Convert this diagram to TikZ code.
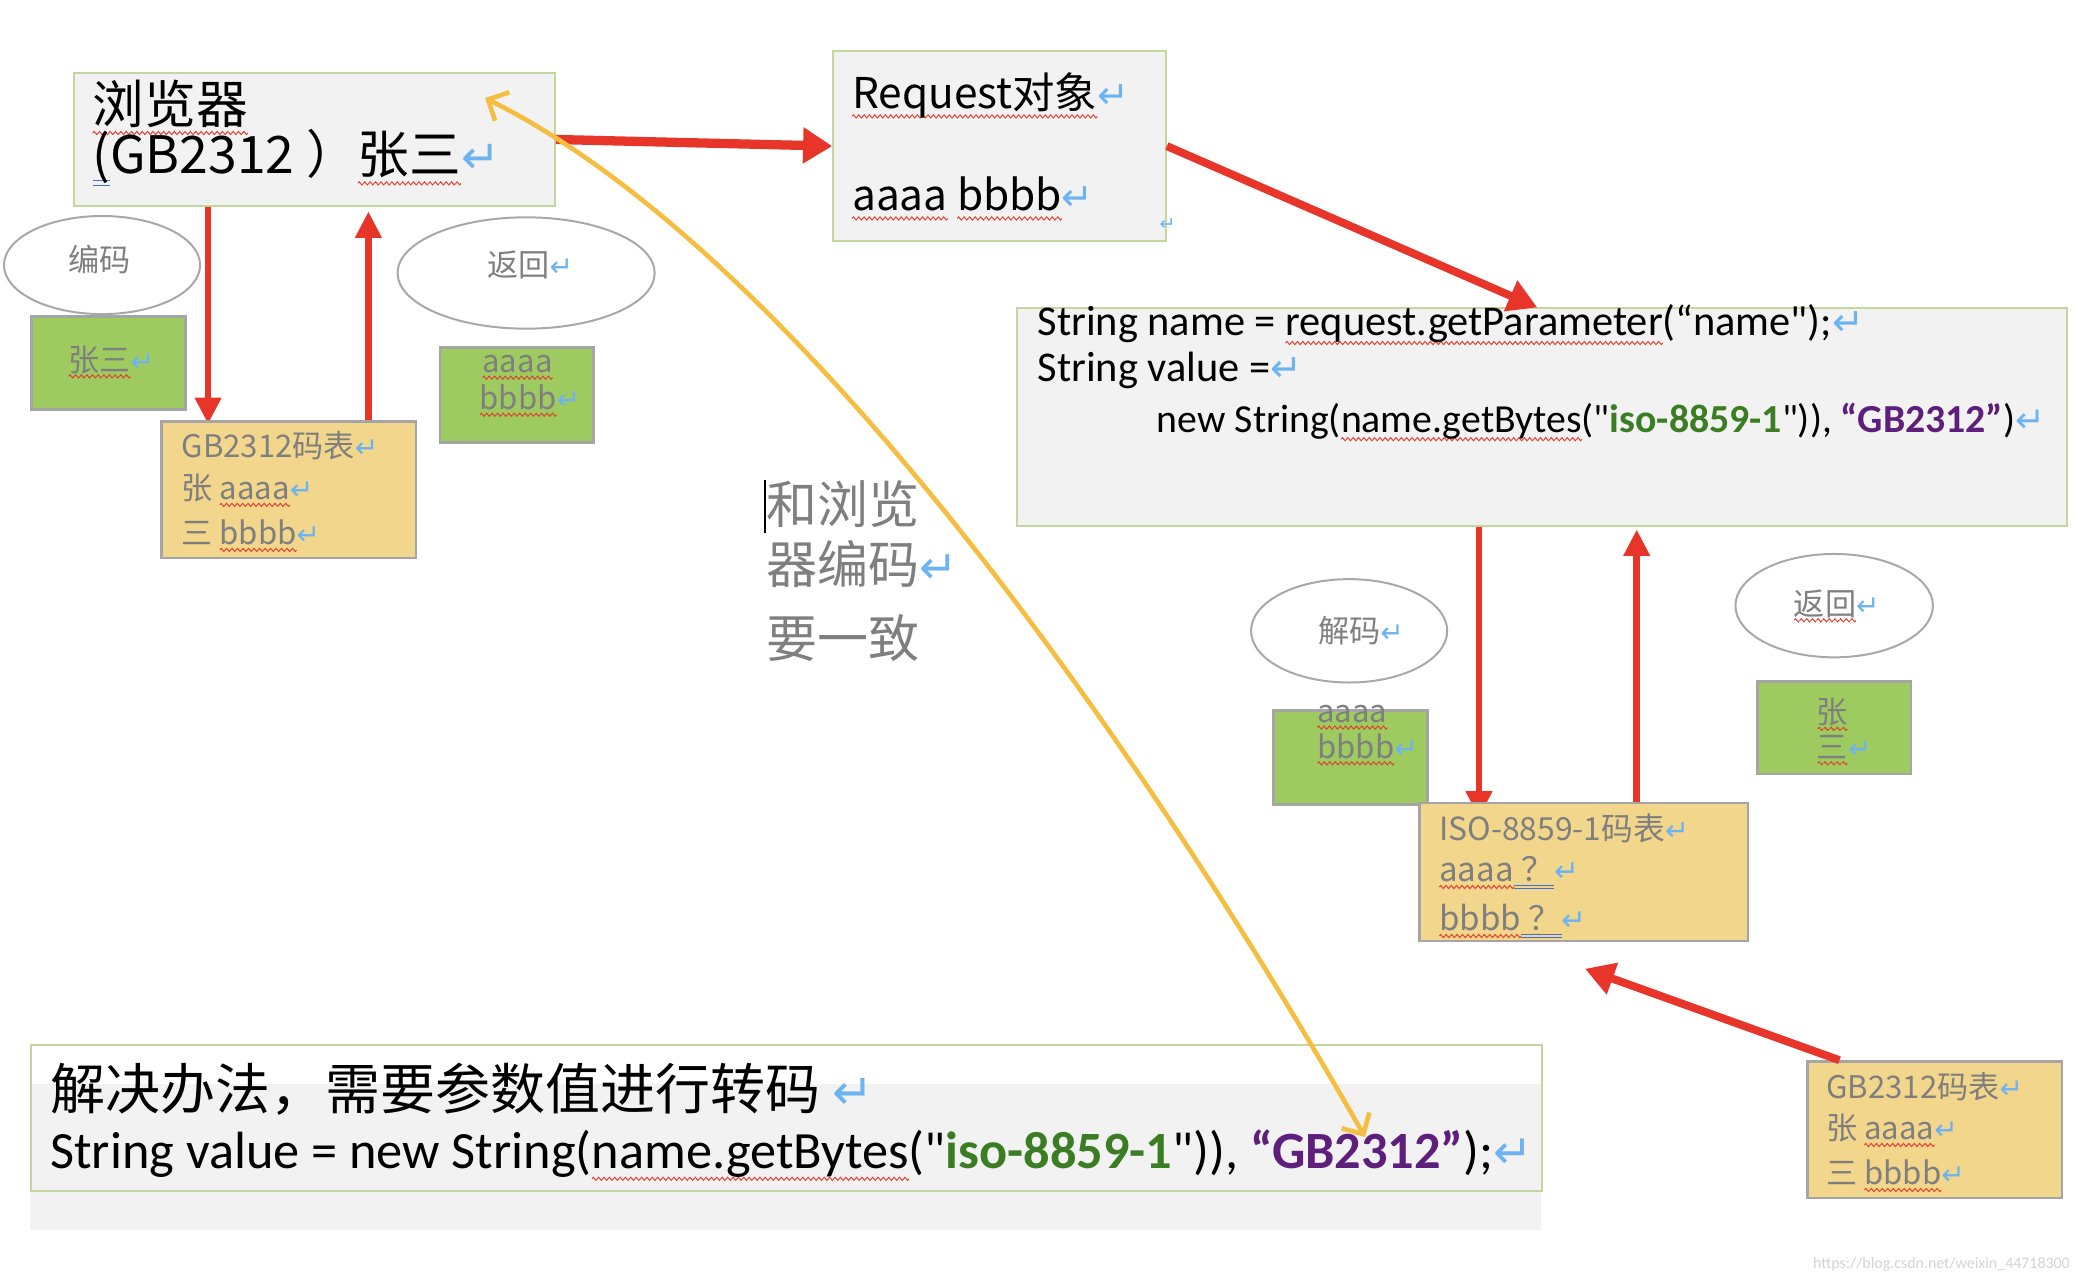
\documentclass[tikz,border=0pt]{standalone}
\usepackage{fontspec}
\setmainfont{Carlito}
\newfontfamily\codefont{Carlito}
\newfontfamily\cjk{Noto Sans CJK SC}
\newfontfamily\dejavu{DejaVu Sans}
\usetikzlibrary{arrows.meta,shapes.geometric,backgrounds,calc}
\definecolor{arrowred}{HTML}{E8352A}
\definecolor{boxfill}{HTML}{F2F2F2}
\definecolor{boxgreen}{HTML}{C3D69B}
\definecolor{leafgreen}{HTML}{9ECB60}
\definecolor{tableyellow}{HTML}{F2D68B}
\definecolor{bordergray}{HTML}{A5A5A5}
\definecolor{ovalgray}{HTML}{A8A8A8}
\definecolor{txtgray}{HTML}{7F7F7F}
\definecolor{retblue}{HTML}{6DB3F2}
\definecolor{wavred}{HTML}{E23A2E}
\definecolor{ulblue}{HTML}{3F6FD8}
\definecolor{curveyellow}{HTML}{F5BE41}
\definecolor{codegreen}{HTML}{3A7D22}
\definecolor{codepurple}{HTML}{5E1F7C}
\definecolor{markgray}{HTML}{D4D4D4}
\newsavebox\wavebox
\newsavebox\wvtmp
\AtBeginDocument{\sbox\wavebox{\pgfpicture
  \pgfsetlinewidth{0.7pt}\pgfsetstrokecolor{wavred}
  \pgfpathmoveto{\pgfpoint{0pt}{0pt}}
  \pgfpathsine{\pgfpoint{1pt}{1.2pt}}
  \pgfpathcosine{\pgfpoint{1pt}{-1.2pt}}
  \pgfpathsine{\pgfpoint{1pt}{-1.2pt}}
  \pgfpathcosine{\pgfpoint{1pt}{1.2pt}}
  \pgfusepath{stroke}
  \pgfresetboundingbox
  \pgfpathrectangle{\pgfpoint{0pt}{-1.2pt}}{\pgfpoint{4pt}{2.4pt}}
  \pgfusepath{use as bounding box}
\endpgfpicture}}
\newcommand\wv[1]{\sbox\wvtmp{#1}\rlap{\raisebox{-0.22em}{\hbox to\wd\wvtmp{\xleaders\copy\wavebox\hfill}}}\usebox\wvtmp}
\newcommand\dbl[1]{\sbox\wvtmp{#1}\rlap{\color{ulblue}\rule[-0.14em]{\wd\wvtmp}{0.9pt}}\rlap{\color{ulblue}\rule[-0.24em]{\wd\wvtmp}{0.9pt}}\usebox\wvtmp}
\newcommand\fs[1]{\fontsize{#1}{#1}\selectfont}
\newcommand\ret{{\dejavu\color{retblue}\scalebox{0.9}{↵}}}
\tikzset{
  graybox/.style={draw=boxgreen, fill=boxfill, line width=1.5, inner sep=0, anchor=north west},
  greenbox/.style={draw=bordergray, fill=leafgreen, line width=2, inner sep=0, anchor=north west},
  tablebox/.style={draw=bordergray, fill=tableyellow, line width=2, inner sep=0, anchor=north west},
  ovalbox/.style={ellipse, draw=ovalgray, fill=white, line width=1.5, inner sep=0},
  redarrow/.style={draw=arrowred, line width=5, -{Triangle[length=20,width=19]}},
  curveline/.style={draw=curveyellow, line width=3.5, {Straight Barb[length=12,width=24]}-{Straight Barb[length=12,width=24]}},
  txt/.style={anchor=base west, inner sep=0, outer sep=0},
  ctxt/.style={inner sep=0, outer sep=0, text=txtgray, font=\cjk\fs{23.5}},
  gtxt/.style={txt, text=txtgray, font=\cjk\fs{23.5}},
}
\begin{document}
\begin{tikzpicture}[x=1pt,y=-1pt]
\begin{pgfonlayer}{background}
\fill[white] (0,0) rectangle (1568,966);
\end{pgfonlayer}
\useasboundingbox (0,0) rectangle (1568,966);

% boxes
\node[graybox, minimum width=363, minimum height=101] (browser) at (55,54) {};
\node[graybox, minimum width=251, minimum height=143] (request) at (628,38) {};
\node[graybox, minimum width=792, minimum height=164] (code) at (767,232) {};
\node[ovalbox, minimum width=148, minimum height=74] (enc) at (77,200) {};
\node[greenbox, minimum width=116, minimum height=70] (g1) at (23,238) {};
\node[tablebox, minimum width=192, minimum height=103] (gbt) at (121,317) {};
\node[ovalbox, minimum width=194, minimum height=84] (ret1) at (397,206) {};
\node[greenbox, minimum width=116, minimum height=72] (g2) at (331,261) {};
\node[ovalbox, minimum width=148, minimum height=78] (dec) at (1018,476) {};
\node[greenbox, minimum width=116, minimum height=71] (g3) at (960,535) {};
\node[ovalbox, minimum width=149, minimum height=78] (ret2) at (1384,457) {};
\node[greenbox, minimum width=116, minimum height=70] (g4) at (1325,513) {};
\node[tablebox, minimum width=248, minimum height=104] (iso) at (1070,605) {};
\node[tablebox, minimum width=192, minimum height=103] (gbt2) at (1363,800) {};
\fill[boxfill] (23,818) rectangle (1163,928);
\node[draw=boxgreen, line width=1.5, inner sep=0, anchor=north west, minimum width=1140, minimum height=110] (sol) at (23,788) {};

% red arrows
\begin{pgfonlayer}{background}
\draw[redarrow] ([xshift=102]browser.south west) -- ([xshift=36,yshift=-3]gbt.north west);
\draw[redarrow] ([xshift=349]code.south west) -- ([xshift=46,yshift=-12]iso.north west);
\end{pgfonlayer}
\draw[redarrow] ([xshift=157]gbt.north west) -- ([xshift=223,yshift=-3]browser.south west);
\draw[redarrow, line width=7, -{Triangle[length=22,width=26]}] (browser.east) -- (request.west);
\draw[redarrow, line width=6, -{Triangle[length=22,width=24]}] (request.east) -- ([xshift=393]code.north west);
\draw[redarrow] ([xshift=165]iso.north west) -- ([xshift=468,yshift=-2]code.south west);
\coordinate (isohint) at (1196,731);
\draw[redarrow, line width=6, -{Triangle[length=22,width=24]}] ([xshift=25]gbt2.north west) -- (isohint);

% browser text
\node[txt, font=\cjk\fs{39}] (tb1) at (70,93) {\wv{浏览器}};
\node[txt, font=\cjk\fs{39}] (tb2) at (70,131) {\dbl{(}GB2312 ）\wv{张三}\ret};
% request text
\node[txt, font=\cjk\fs{32}] (tr1) at (643,82) {\wv{Request对象}\ret};
\node[txt, font=\cjk\fs{32}] (tr2) at (643,159) {\wv{aaaa} \wv{bbbb}\ret};
\node[txt, font=\cjk\fs{16}] (tr3) at (875,174) {\ret};
% code text
\node[txt, font=\codefont\fs{32}] (tc1) at (783,253) {String name = \wv{request.getParameter}(“name");\ret};
\node[txt, font=\codefont\fs{32}] (tc2) at (783,288) {String value =\ret};
\node[txt, font=\codefont\fs{30}] (tc3) at (873,326) {new String(\wv{name.getBytes}("\textcolor{codegreen}{\bfseries iso-8859-1}")), \textcolor{codepurple}{\bfseries “GB2312”})\ret};
% ellipse text
\node[ctxt] (te1) at (75,196) {编码};
\node[ctxt] (te2) at (400,200) {返回\ret};
\node[ctxt] (te3) at (1027,476) {解码\ret};
\node[ctxt] (te4) at (1386,457) {\wv{返回}\ret};
% green box text
\node[ctxt] (tg1) at (84,273) {\wv{张三}\ret};
\node[gtxt] (tg2a) at (364,281) {\wv{aaaa}};
\node[gtxt] (tg2b) at (362,309) {\wv{bbbb}\ret};
\node[gtxt] (tg3a) at (994,545) {\wv{aaaa}};
\node[gtxt] (tg3b) at (994,572) {\wv{bbbb}\ret};
\node[gtxt] (tg4a) at (1371,546) {\wv{张}};
\node[gtxt] (tg4b) at (1371,572) {\wv{三}\ret};
% tables
\node[gtxt] (ta1) at (137,345) {GB2312码表\ret};
\node[gtxt] (ta2) at (137,377) {张 \wv{aaaa}\ret};
\node[gtxt] (ta3) at (137,411) {三 \wv{bbbb}\ret};
\node[gtxt, font=\cjk\fs{24}] (ti1) at (1086,634) {ISO-8859-1码表\ret};
\node[gtxt, font=\cjk\fs{25}] (ti2) at (1086,665) {\wv{aaaa}\dbl{\ ？}\ret};
\node[gtxt, font=\cjk\fs{25}] (ti3) at (1086,702) {\wv{bbbb}\dbl{\ ？}\ret};
\node[gtxt] (tb21) at (1378,829) {GB2312码表\ret};
\node[gtxt] (tb22) at (1378,860) {张 \wv{aaaa}\ret};
\node[gtxt] (tb23) at (1378,894) {三 \wv{bbbb}\ret};
% middle note
\node[txt, text=txtgray, font=\cjk\fs{38.5}] (m1) at (578,395) {和浏览};
\node[txt, text=txtgray, font=\cjk\fs{38.5}] (m2) at (578,440) {器编码\ret};
\node[txt, text=txtgray, font=\cjk\fs{38.5}] (m3) at (578,496) {要一致};
\draw[black, line width=1.5] ([xshift=-1,yshift=33]m1.base west) -- ([xshift=-1,yshift=-7]m1.base west);
% solution box text
\node[txt, font=\cjk\fs{41.5}] (s1) at (38,837) {解决办法，需要参数值进行转码 \ret};
\node[txt, font=\codefont\fs{39.5}] (s2) at (38,882) {String value = new String(\wv{name.getBytes}("\textcolor{codegreen}{\bfseries iso-8859-1}")), \textcolor{codepurple}{\bfseries “GB2312”});\ret};
% watermark
\node[anchor=base east, inner sep=0, font=\codefont\fs{12}, text=markgray] (wm) at (1562,957) {https://blog.csdn.net/weixin\_44718300};

% yellow curve
\coordinate (ytop) at (366,74);
\coordinate (ybot) at (1030,858);
\draw[curveline] (ytop) .. controls (600,190) and (860,560) .. (ybot);
\end{tikzpicture}
\end{document}
